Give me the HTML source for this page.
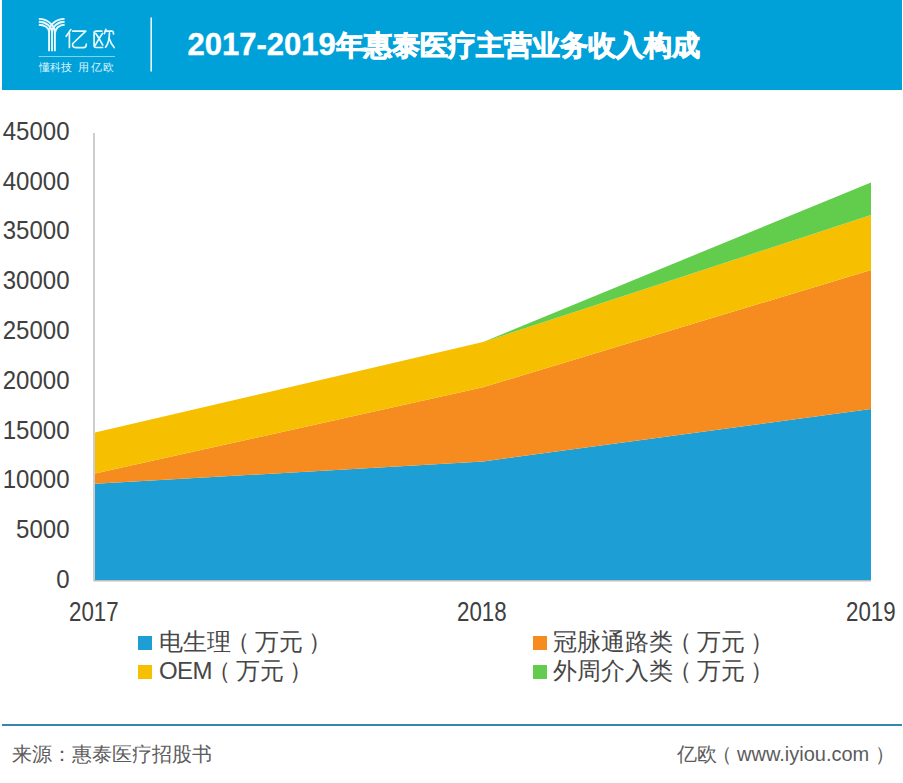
<!DOCTYPE html>
<html><head><meta charset="utf-8">
<style>
html,body{margin:0;padding:0;background:#fff;}
body{width:903px;height:783px;position:relative;overflow:hidden;font-family:"Liberation Sans",sans-serif;}
.abs{position:absolute;white-space:nowrap;}
#hdr{position:absolute;left:2px;top:0;width:899.5px;height:89.5px;background:#00a1d9;}
.ylab{position:absolute;right:833.5px;font-size:24px;color:#404040;line-height:24px;transform:scaleY(1.09);transform-origin:right top;}
.xlab{position:absolute;font-size:24px;color:#404040;line-height:24px;transform:scale(0.93,1.12);transform-origin:left top;}
.leg{position:absolute;font-size:24px;color:#474747;line-height:24px;font-weight:300;}
.sq{position:absolute;width:14px;height:14px;}
.t{position:absolute;white-space:nowrap;line-height:30px;}
.lp{position:relative;left:-5px}.rp{position:relative;left:5px}
</style></head><body>
<div id="hdr"></div>
<svg class="abs" style="left:0;top:0" width="903" height="100" viewBox="0 0 903 100">
  <g fill="none" stroke="#e9faff" stroke-width="1.9" stroke-linecap="butt">
    <path d="M38.8 18.9 A16.1 14.5 0 0 1 54.9 33.4 V51.2"/>
    <path d="M38.8 21.8 A13.2 10.8 0 0 1 52 32.6 V51.2"/>
    <path d="M38.8 24.7 A10.4 7.2 0 0 1 49.05 31.9 V51.2"/>
    <path d="M64.6 18.9 A15.55 13 0 0 0 49.05 31.9"/>
    <path d="M64.6 21.8 A12.6 10.8 0 0 0 52 32.6"/>
    <path d="M64.6 24.7 A9.7 8.7 0 0 0 54.9 33.4"/>
  </g>
  <g fill="none" stroke="#e9faff" stroke-width="1.7" stroke-linecap="round" stroke-linejoin="round">
    <path d="M70.9 29.6 L66.2 36.3"/>
    <path d="M69.4 33 V47.5"/>
    <path d="M72.7 31.1 H85.8 L72.8 43.5 Q71.5 47.6 76 47.6 H83.5 Q86.3 47.6 86.3 44.2"/>
    <path d="M102 31.1 H96 Q94.1 31.1 94.1 33 V45.6 Q94.1 47.5 96 47.5 H102.6"/>
    <path d="M95.8 33.5 Q99 38 102.8 45.1"/>
    <path d="M102.5 33.5 Q99 38 95.4 45.1"/>
    <path d="M105.9 29.3 L104.4 33.5"/>
    <path d="M105.2 31.1 H112 Q113.5 31.1 113.5 34"/>
    <path d="M109.4 32.9 Q109.5 42 105.6 47.2"/>
    <path d="M109.2 38.6 Q111 44 114.2 47.5"/>
  </g>
  <line x1="151.2" y1="17.6" x2="151.2" y2="71.6" stroke="#e9faff" stroke-width="1.6"/>
  <line x1="38.6" y1="56.5" x2="115" y2="56.5" stroke="#7fd3f2" stroke-width="1"/>
</svg>
<div class="abs" style="left:38.7px;top:60.2px;font-size:10.5px;color:#dcf4fd;line-height:14px;letter-spacing:0.1px;">懂科技<span style="margin-left:5.8px;letter-spacing:1.8px">用亿欧</span></div>
<div class="t" style="left:187.5px;top:29.7px;font-size:31px;font-weight:bold;color:#fff;-webkit-text-stroke:0.4px #fff;">2017-2019</div>
<div class="t" style="left:336px;top:30.5px;font-size:28px;font-weight:bold;color:#fff;-webkit-text-stroke:0.9px #fff;">年惠泰医疗主营业务收入构成</div>

<svg class="abs" style="left:0;top:0" width="903" height="783" viewBox="0 0 903 783">
  <polygon fill="#1d9ed4" points="95,580 95,483.8 483,461.5 871,409 871,580"/>
  <polygon fill="#f68c20" points="95,483.8 95,473.6 483,387.2 871,270 871,409 483,461.5"/>
  <polygon fill="#f6c000" points="95,473.6 95,432.6 483,342 871,215 871,270 483,387.2"/>
  <polygon fill="#62cc4c" points="483,342 871,182.4 871,215"/>
  <line x1="94" y1="133" x2="94" y2="581" stroke="#bdbdbd" stroke-width="1.5"/>
  <line x1="94" y1="580.8" x2="871" y2="580.8" stroke="#bdbdbd" stroke-width="1.5"/>
</svg>

<div class="ylab" style="top:117.7px">45000</div>
<div class="ylab" style="top:167.5px">40000</div>
<div class="ylab" style="top:217.3px">35000</div>
<div class="ylab" style="top:267.1px">30000</div>
<div class="ylab" style="top:316.9px">25000</div>
<div class="ylab" style="top:366.7px">20000</div>
<div class="ylab" style="top:416.5px">15000</div>
<div class="ylab" style="top:466.3px">10000</div>
<div class="ylab" style="top:516.1px">5000</div>
<div class="ylab" style="top:565.9px">0</div>

<div class="xlab" style="left:69px;top:598.5px">2017</div>
<div class="xlab" style="left:457px;top:598.5px">2018</div>
<div class="xlab" style="left:846px;top:598.5px">2019</div>

<div class="sq" style="left:138px;top:636px;background:#1d9ed4"></div>
<div class="leg" style="left:159px;top:630px">电生理<span class="lp">（</span>万元<span class="rp">）</span></div>
<div class="sq" style="left:138px;top:665px;background:#f6c000"></div>
<div class="leg" style="left:159px;top:659px"><span style="letter-spacing:-0.6px">OEM</span><span class="lp">（</span>万元<span class="rp">）</span></div>
<div class="sq" style="left:533px;top:636px;background:#f68c20"></div>
<div class="leg" style="left:553px;top:630px">冠脉通路类<span class="lp">（</span>万元<span class="rp">）</span></div>
<div class="sq" style="left:533px;top:665px;background:#62cc4c"></div>
<div class="leg" style="left:553px;top:659px">外周介入类<span class="lp">（</span>万元<span class="rp">）</span></div>

<div class="abs" style="left:2px;top:724px;width:900px;height:2px;background:#3289b0"></div>
<div class="abs" style="left:12px;top:742px;font-size:20px;color:#5c5c5c;line-height:24px;font-weight:300">来源：惠泰医疗招股书</div>
<div class="abs" style="left:677px;top:742px;font-size:20px;color:#5c5c5c;line-height:24px;font-weight:300">亿欧<span class="lp">（</span>www.iyiou.com<span style="position:relative;left:6px">）</span></div>
</body></html>
